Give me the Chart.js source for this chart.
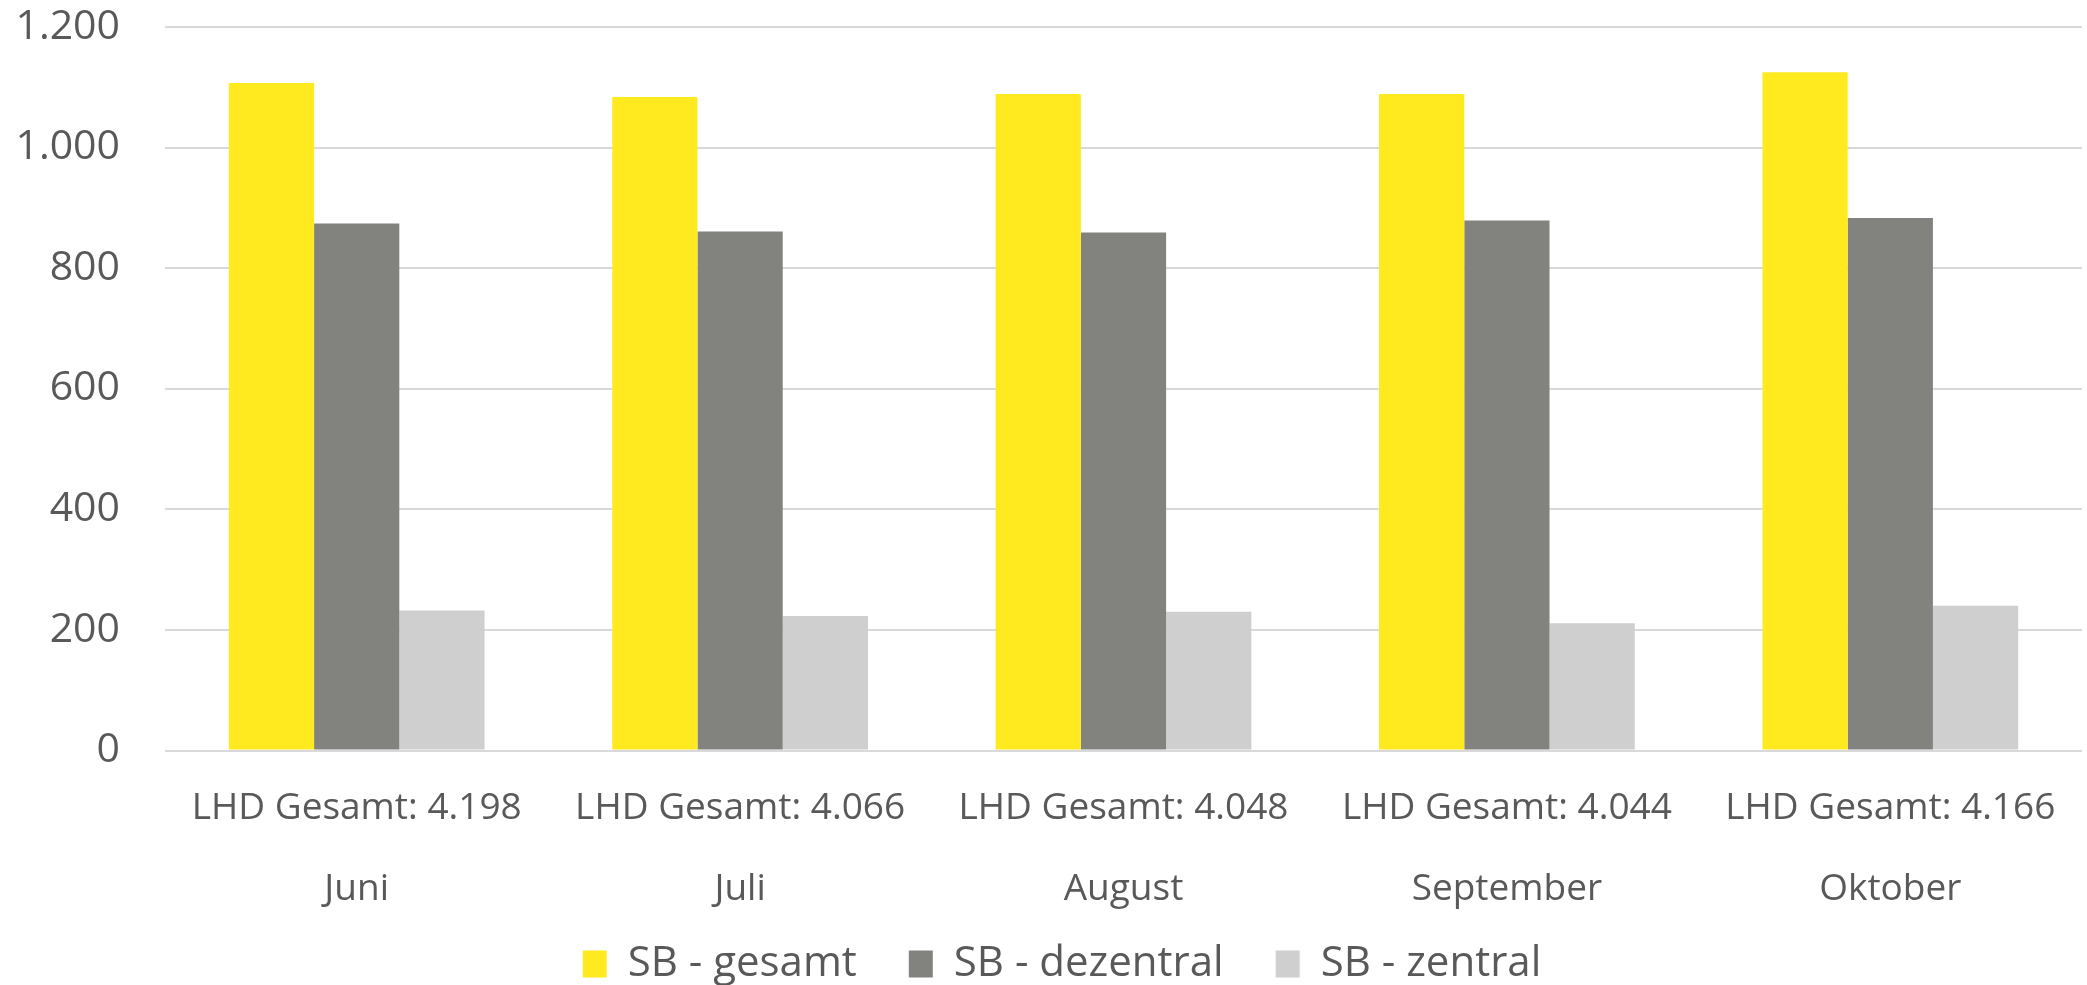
<!DOCTYPE html>
<html>
<head>
<meta charset="utf-8">
<script src="https://cdn.jsdelivr.net/npm/chart.js@4"></script>
<style>
  html, body { margin: 0; padding: 0; background: #fff; }
  canvas { display: block; }
</style>
</head>
<body>
<canvas id="sbChart" width="2087" height="985"></canvas>
<script>
// Data
const months = ['Juni', 'Juli', 'August', 'September', 'Oktober'];
const lhdGesamt = [4198, 4066, 4048, 4044, 4166];
const sbGesamt = [1107, 1084, 1089, 1089, 1125];
const sbDezentral = [874, 861, 859, 879, 883];
const sbZentral = [232, 223, 230, 211, 240];
const yTicks = [0, 200, 400, 600, 800, 1000, 1200];

// German thousands separator
function fmt(n) {
  return String(n).replace(/\B(?=(\d{3})+(?!\d))/g, '.');
}

const textColor = '#595959';
const gridColor = '#D9D9D9';

// legend: wide horizontal gaps but a flat box, so the x labels are not clipped
const legendPlacement = {
  id: 'legendPlacement',
  afterInit(chart) {
    const legend = chart.legend;
    const fit = legend.fit;
    legend.fit = function () {
      fit.call(this);
      this.height = 61;
    };
    const draw = legend.draw;
    legend.draw = function () {
      const { top, left, right } = this;
      this.top = top - 33;
      this.left = left + 21;
      this.right = right + 21;
      draw.call(this);
      this.top = top;
      this.left = left;
      this.right = right;
    };
  }
};

function noPadding(scale) {
  scale.paddingTop = 0;
  scale.paddingBottom = 0;
  scale.paddingLeft = 0;
  scale.paddingRight = 0;
}

function createChart() {
  const ctx = document.getElementById('sbChart').getContext('2d');
  new Chart(ctx, {
    type: 'bar',
    data: {
      labels: months.map((m, i) => ['LHD Gesamt: ' + fmt(lhdGesamt[i]), m]),
      datasets: [
        { label: 'SB - gesamt', data: sbGesamt, backgroundColor: '#FFEA20' },
        { label: 'SB - dezentral', data: sbDezentral, backgroundColor: '#82827F' },
        { label: 'SB - zentral', data: sbZentral, backgroundColor: '#CFCFCF' }
      ]
    },
    plugins: [legendPlacement],
    options: {
      responsive: false,
      animation: false,
      layout: {
        padding: { top: 27, left: 0, right: 5, bottom: 0 }
      },
      datasets: {
        bar: { categoryPercentage: 0.667, barPercentage: 1.0 }
      },
      plugins: {
        tooltip: { enabled: false },
        legend: {
          position: 'bottom',
          labels: {
            color: textColor,
            font: { family: 'Open Sans', size: 42 },
            boxWidth: 24,
            boxHeight: 27,
            padding: 52
          }
        }
      },
      scales: {
        x: {
          grid: { display: false },
          border: { display: false },
          ticks: {
            color: textColor,
            font: { family: 'Open Sans', size: 37, lineHeight: 2.2 },
            padding: 9,
            maxRotation: 0,
            autoSkip: false
          },
          afterFit: (scale) => {
            noPadding(scale);
            scale.height = 173.5;
          }
        },
        y: {
          min: 0,
          max: 1200,
          afterBuildTicks: (scale) => { scale.ticks = yTicks.map(v => ({ value: v })); },
          grid: { color: gridColor, lineWidth: 2, drawTicks: false },
          border: { display: false },
          ticks: {
            color: textColor,
            font: { family: 'Open Sans', size: 41 },
            padding: 45,
            callback: (v) => fmt(v)
          },
          afterFit: (scale) => {
            noPadding(scale);
            scale.width = 165;
          }
        }
      }
    }
  });
}

window.addEventListener('DOMContentLoaded', createChart);
</script>
</body>
</html>
